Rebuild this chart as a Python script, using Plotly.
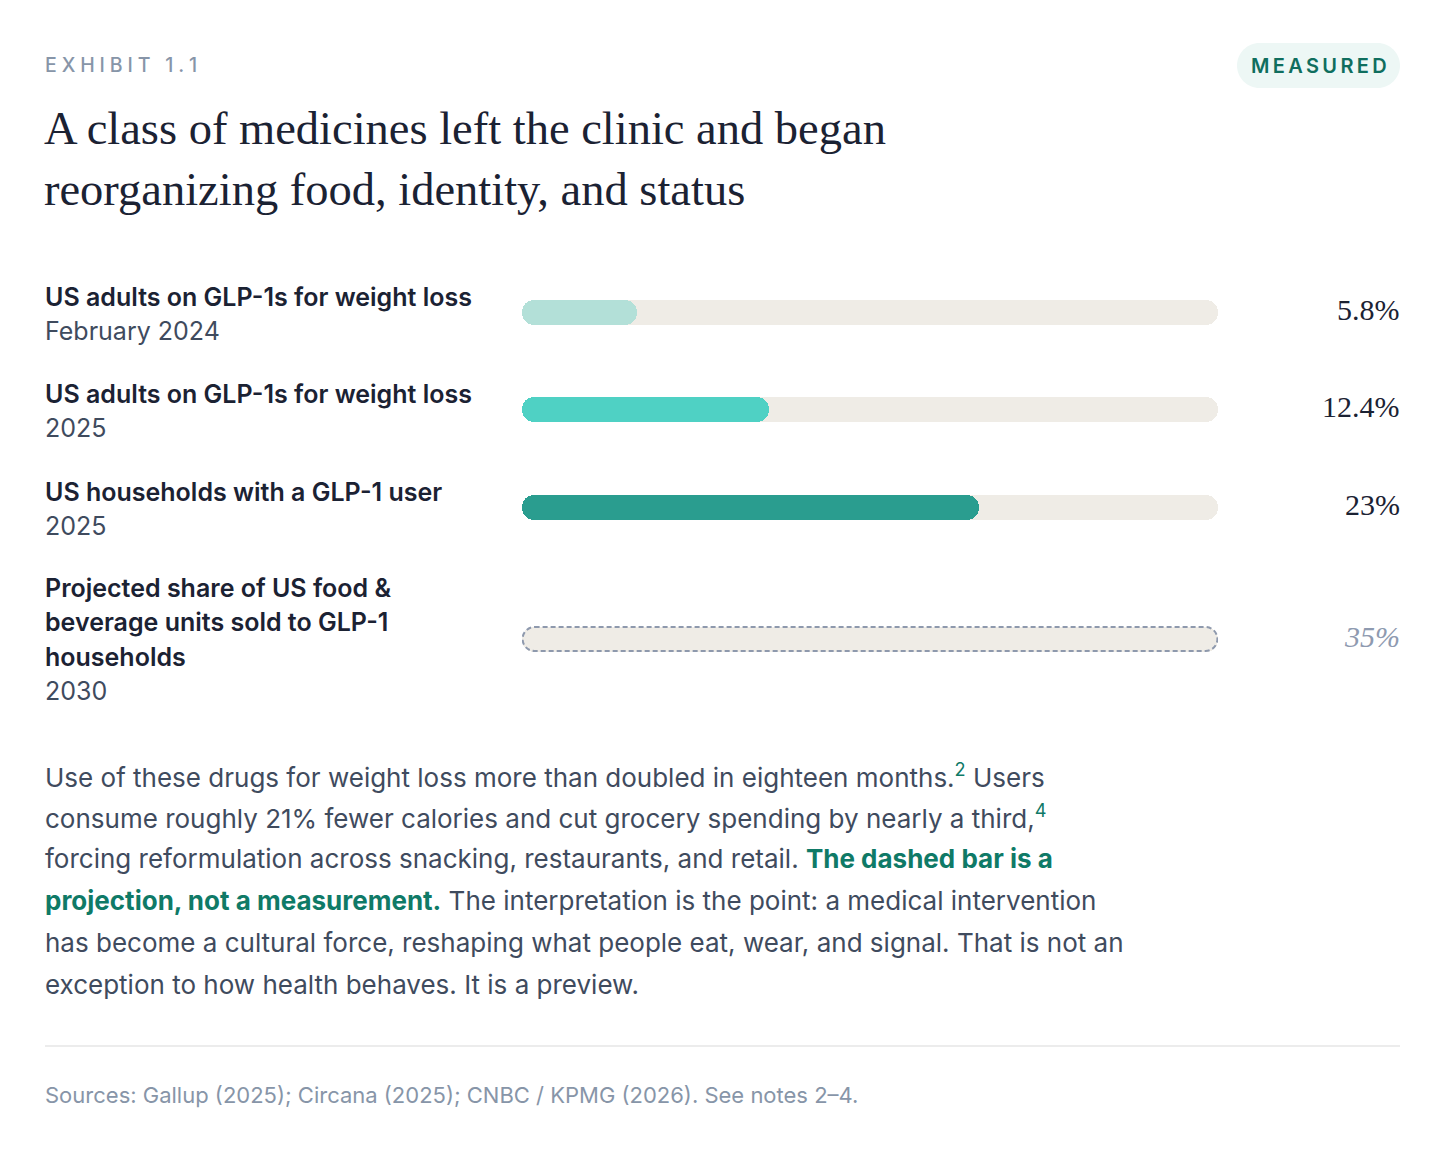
import plotly.graph_objects as go

# ---------------- data ----------------
row_titles = [
    ["US adults on GLP-1s for weight loss"],
    ["US adults on GLP-1s for weight loss"],
    ["US households with a GLP-1 user"],
    ["Projected share of US food &", "beverage units sold to GLP-1", "households"],
]
row_periods = ["February 2024", "2025", "2025", "2030"]
values = [5.8, 12.4, 23.0, 35.0]
value_labels = ["5.8%", "12.4%", "23%", "35%"]
projected = [False, False, False, True]
scale_max = 35.0

exhibit = "EXHIBIT 1.1"
badge = "MEASURED"
title_lines = ["A class of medicines left the clinic and began",
               "reorganizing food, identity, and status"]
TEAL = "#0f7a67"
body_lines = [
    "Use of these drugs for weight loss more than doubled in eighteen months."
    f"<sup><span style='color:{TEAL}'>2</span></sup> Users",
    "consume roughly 21% fewer calories and cut grocery spending by nearly a third,"
    f"<sup><span style='color:{TEAL}'>4</span></sup>",
    f"forcing reformulation across snacking, restaurants, and retail. <b><span style='color:{TEAL}'>The dashed bar is a</span></b>",
    f"<b><span style='color:{TEAL}'>projection, not a measurement.</span></b> The interpretation is the point: a medical intervention",
    "has become a cultural force, reshaping what people eat, wear, and signal. That is not an",
    "exception to how health behaves. It is a preview.",
]
sources = "Sources: Gallup (2025); Circana (2025); CNBC / KPMG (2026). See notes 2–4."

# ---------------- layout constants ----------------
W, H = 1456, 1165
LEFT = 43
RIGHT = 1402
BAR_X0, BAR_X1 = 522, 1218
BAR_H = 25
row_y = [312.5, 409, 507.5, 639]
label_first_y = [297, 394, 492, 588]
LABEL_STEP = 34.3
fill_colors = ["#b3e0d8", "#4fd1c4", "#2a9d8f", None]
TRACK = "#efece6"
DARK = "#1b2233"
SLATE = "#3f4b5e"
GREY = "#8795a8"
SANS = "Inter, 'Noto Sans', sans-serif"
SERIF = "'Liberation Serif', 'DejaVu Serif', serif"

fig = go.Figure()


def add_pill(v, y, color, name):
    # two overlapping halves so that both ends get rounded tips
    fig.add_trace(go.Bar(
        x=[-0.6 * v], base=[0.6 * v], y=[y], width=BAR_H, orientation="h",
        marker=dict(color=color, cornerradius=BAR_H / 2, line=dict(width=0)),
        xaxis="x2", yaxis="y", hoverinfo="skip", showlegend=False, name=name))
    fig.add_trace(go.Bar(
        x=[0.6 * v], base=[0.4 * v], y=[y], width=BAR_H, orientation="h",
        marker=dict(color=color, cornerradius=BAR_H / 2, line=dict(width=0)),
        xaxis="x2", yaxis="y", hoverinfo="skip", showlegend=False, name=name))


# tracks
for i in range(len(values)):
    add_pill(scale_max, row_y[i], TRACK, "track")
# measured fills
for i, v in enumerate(values):
    if not projected[i]:
        add_pill(v, row_y[i], fill_colors[i], "value")

shapes = []


def rounded_path(a, b, c, h, rx):
    k = 0.5523
    return (f"M {a+rx},{c-h} L {b-rx},{c-h} "
            f"C {b-rx+k*rx},{c-h} {b},{c-k*h} {b},{c} "
            f"C {b},{c+k*h} {b-rx+k*rx},{c+h} {b-rx},{c+h} "
            f"L {a+rx},{c+h} "
            f"C {a+rx-k*rx},{c+h} {a},{c+k*h} {a},{c} "
            f"C {a},{c-k*h} {a+rx-k*rx},{c-h} {a+rx},{c-h} Z")


px_per_unit = (BAR_X1 - BAR_X0) / scale_max
for i, v in enumerate(values):
    if projected[i]:
        hh = BAR_H / 2 - 0.5
        rx = hh / px_per_unit
        shapes.append(dict(type="path", xref="x2", yref="y",
                           path=rounded_path(0.03, v - 0.03, row_y[i], hh, rx),
                           fillcolor=TRACK,
                           line=dict(color="#8e99ad", width=2, dash="5px,3px"),
                           layer="above"))

# badge pill (pixel axes)
shapes.append(dict(type="path", xref="x", yref="y",
                   path=rounded_path(1237, 1400, 65.5, 22.5, 22.5),
                   fillcolor="#edf7f5", line=dict(width=0), layer="below"))
# divider
shapes.append(dict(type="line", xref="x", yref="y", x0=45, x1=1400, y0=1046, y1=1046,
                   line=dict(color="#e6e6e6", width=1.5)))

ann = []


def text(x, y, s, size, color, family=SANS, weight=400, anchor="left", style="normal"):
    ann.append(dict(x=x, y=y, xref="x", yref="y", text=s, showarrow=False,
                    xanchor=anchor, yanchor="middle",
                    font=dict(family=family, size=size, color=color, weight=weight, style=style)))


def spaced(s, sep):
    return sep.join(list(s))


text(LEFT, 65, spaced(exhibit, "\u2005"), 19.5, GREY, weight=500)
text(1318.5, 65.5, spaced(badge, "\u2009"), 20, "#0f6e5e", weight=600, anchor="center")
text(LEFT - 1, 128, title_lines[0], 46.5, DARK, family=SERIF)
text(LEFT - 1, 189, title_lines[1], 46.5, DARK, family=SERIF)

for i in range(len(values)):
    y = label_first_y[i]
    for line in row_titles[i]:
        text(LEFT, y, line, 25, DARK, weight=600)
        y += LABEL_STEP
    text(LEFT, y, row_periods[i], 25, SLATE, weight=400)
    if projected[i]:
        text(RIGHT, row_y[i] - 3, value_labels[i], 30, "#8e9ab0", family=SERIF, anchor="right", style="italic")
    else:
        text(RIGHT, row_y[i] - 3, value_labels[i], 30, DARK, family=SERIF, anchor="right")

for j, line in enumerate(body_lines):
    text(LEFT, 775 + j * 41.8, line, 26, SLATE)

text(LEFT, 1095, sources, 22, GREY)

fig.update_layout(
    width=W, height=H, margin=dict(l=0, r=0, t=0, b=0),
    paper_bgcolor="white", plot_bgcolor="white",
    barmode="overlay", bargap=0,
    showlegend=False,
    xaxis=dict(domain=[0, 1], range=[0, W], visible=False, fixedrange=True),
    xaxis2=dict(domain=[BAR_X0 / W, BAR_X1 / W], range=[0, scale_max], anchor="y",
                visible=False, fixedrange=True),
    yaxis=dict(domain=[0, 1], range=[H, 0], visible=False, fixedrange=True),
    shapes=shapes, annotations=ann,
)

fig.write_html("out.html", config={"displayModeBar": False})
